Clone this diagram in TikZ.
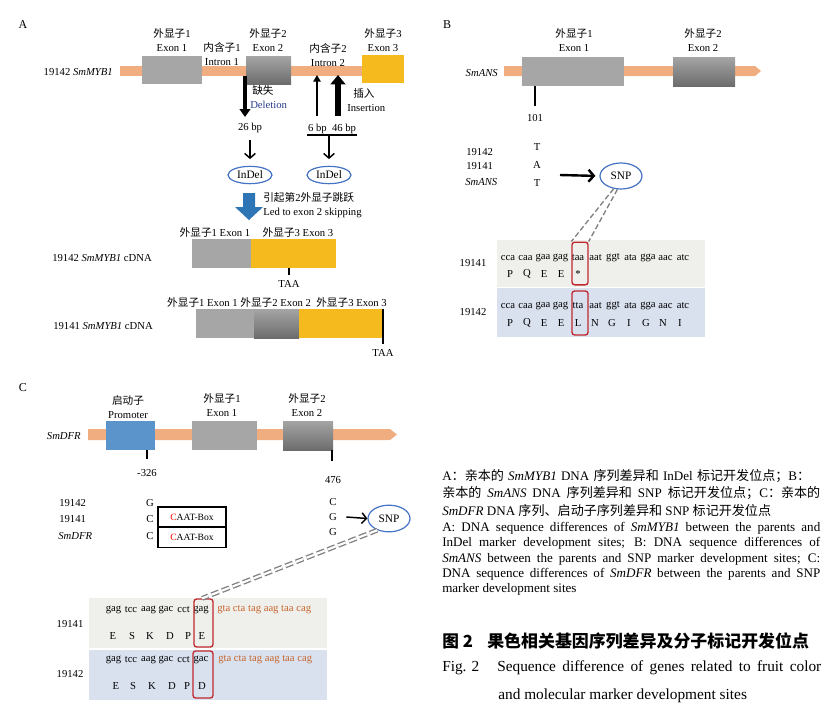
\documentclass[tikz,border=0pt]{standalone}
\usepackage{fontspec}
\setmainfont{Liberation Serif}
\newfontfamily\cjk{Noto Sans CJK SC}
\usetikzlibrary{shapes.geometric, arrows.meta}
\newcommand{\zh}[1]{{\cjk #1}}
\definecolor{genebar}{RGB}{240,173,128}
\definecolor{exongray}{RGB}{166,166,166}
\definecolor{exontop}{RGB}{165,165,165}
\definecolor{exonbot}{RGB}{108,108,108}
\definecolor{exonyellow}{RGB}{245,186,30}
\definecolor{promblue}{RGB}{91,148,202}
\definecolor{ringblue}{RGB}{68,114,196}
\definecolor{bigblue}{RGB}{46,117,182}
\definecolor{rowgray}{RGB}{239,240,236}
\definecolor{rowblue}{RGB}{217,225,239}
\definecolor{boxred}{RGB}{192,40,45}
\definecolor{seqorange}{RGB}{200,100,45}
\definecolor{delblue}{RGB}{40,60,140}

\begin{document}
\begin{tikzpicture}[x=0.75pt,y=-0.75pt,
  lab/.style={font=\fontsize{8}{10.5}\selectfont, inner sep=0pt, align=center},
  seq/.style={font=\fontsize{8}{9}\selectfont, inner sep=0pt},
  captxt/.style={font=\fontsize{9.8}{11}\selectfont, inner sep=0pt, anchor=west},
  ring/.style={ellipse, draw=ringblue, line width=0.9pt, inner sep=0pt, font=\fontsize{8.5}{10}\selectfont},
  redbox/.style={draw=boxred, line width=1pt, rounded corners=2pt, inner sep=0pt},
  exonshade/.style={top color=exontop, bottom color=exonbot},
  blk/.style={line width=1.1pt, -{Straight Barb[length=3.5pt,width=8pt]}},
  snpdash/.style={draw=gray, line width=1pt, dash pattern=on 4pt off 2pt},
  sitemark/.style={line width=1.3pt}]
\useasboundingbox (0,0) rectangle (834,718);

\node[lab, font=\fontsize{9}{10}\selectfont] (pA) at (23,25) {A};
\fill[genebar] (120,66) rectangle (363,76);
\fill[exongray] (142,56) rectangle (202,84);
\path[exonshade] (246,56) rectangle (291,84);
\fill[exonyellow] (362,55) rectangle (404,83);
\node[lab, anchor=east] (mybA) at (113,72) {19142 \textit{SmMYB1}};
\node[lab] (ex1A) at (172,40) {\zh{外显子}1\\Exon 1};
\node[lab] (ex2A) at (268,40) {\zh{外显子}2\\Exon 2};
\node[lab] (ex3A) at (383,40) {\zh{外显子}3\\Exon 3};
\node[lab] (in1A) at (222,54) {\zh{内含子}1\\Intron 1};
\node[lab] (in2A) at (328,55) {\zh{内含子}2\\Intron 2};
\coordinate (delS) at (245,76);
\coordinate (delE) at (245,117);
\draw[line width=2.4pt, -{Triangle[length=6pt,width=8pt]}] (delS) -- (delE);
\node[lab, anchor=west, align=left] (delA) at (250,97.5) {\hspace{1.5pt}\zh{缺失}\\\textcolor{delblue}{Deletion}};
\coordinate (insS1) at (317,116);
\coordinate (insE1) at (317,75);
\draw[line width=1.6pt, -{Triangle[length=5pt,width=5.5pt]}] (insS1) -- (insE1);
\coordinate (insS2) at (338,116);
\coordinate (insE2) at (338,75);
\draw[line width=4pt, -{Triangle[length=7pt,width=11pt]}] (insS2) -- (insE2);
\node[lab, anchor=west, align=left] (insA) at (347,100) {\hspace{4.5pt}\zh{插入}\\Insertion};
\node[lab] (bp26) at (250,128) {26 bp};
\node[lab] (bp46) at (332,129) {6 bp\ \ 46 bp};
\draw[line width=0.8pt] (307,135) coordinate (ulL) -- (357,135) coordinate (ulR);
\coordinate (ulM) at (329,135);
\node[ring, minimum width=33pt, minimum height=13pt] (indel1) at (250,175) {InDel};
\node[ring, minimum width=33pt, minimum height=13pt] (indel2) at (329,175) {InDel};
\draw[blk] ([yshift=-5pt]bp26.south) -- ([yshift=5pt]indel1.north);
\draw[blk] (ulM) -- ([yshift=5pt]indel2.north);
\fill[bigblue] (243,193) -- (255,193) -- (255,207) -- (263,207) -- (249,220) -- (235,207) -- (243,207) -- cycle;
\node[lab, anchor=west, align=left] (skipA) at (263,205) {\zh{引起第}2\zh{外显子跳跃}\\Led to exon 2 skipping};

\node[lab] (cx1) at (215,232) {\zh{外显子}1 Exon 1};
\node[lab] (cx3) at (298,232) {\zh{外显子}3 Exon 3};
\fill[exongray] (192,239) rectangle (251,268);
\fill[exonyellow] (251,239) rectangle (336,268);
\draw[sitemark] (289,268) -- (289,275);
\node[lab] (taa1) at (289,284) {TAA};
\node[lab, anchor=west] (c42) at (52,258) {19142 \textit{SmMYB1} cDNA};
\node[lab] (cx123) at (277,302) {\zh{外显子}1 Exon 1 \zh{外显子}2 Exon 2 \ \zh{外显子}3 Exon 3};
\fill[exongray] (196,309) rectangle (254,338);
\path[exonshade] (254,309) rectangle (299,338);
\fill[exonyellow] (299,309) rectangle (383,338);
\draw[sitemark] (383,309) -- (383,344);
\node[lab] (taa2) at (383,353) {TAA};
\node[lab, anchor=west] (c41) at (53,326) {19141 \textit{SmMYB1} cDNA};

\node[lab, font=\fontsize{9}{10}\selectfont] (pB) at (447,25) {B};
\fill[genebar] (504,66) -- (755,66) -- (761,71) -- (755,76) -- (504,76) -- cycle;
\fill[exongray] (522,57) rectangle (624,86);
\path[exonshade] (673,57) rectangle (735,86);
\node[lab] (ex1B) at (574,40.5) {\zh{外显子}1\\Exon 1};
\node[lab] (ex2B) at (703,40.5) {\zh{外显子}2\\Exon 2};
\node[lab, anchor=east] (ansB) at (498,73) {\textit{SmANS}};
\draw[sitemark] (535,86) -- (535,106);
\node[lab] (p101) at (535,118) {101};
\node[lab, anchor=west] (b42) at (466,152) {19142};
\node[lab, anchor=west] (b41) at (466,166) {19141};
\node[lab, anchor=west] (bans) at (465,182) {\textit{SmANS}};
\node[lab] (bT1) at (537,147) {T};
\node[lab] (bA) at (537,165) {A};
\node[lab] (bT2) at (537,183) {T};
\node[ring, minimum width=31.5pt, minimum height=19.5pt] (snpB) at (621,176) {SNP};
\coordinate (arrB) at (560,175);
\draw[line width=1.8pt, -{Straight Barb[length=4pt,width=9pt]}, shorten >=3pt] (arrB) -- (snpB.west);
\fill[rowgray] (497,240) rectangle (705,287);
\fill[rowblue] (497,288) rectangle (705,337);
\node[lab] (b41s) at (473,263) {19141};
\node[lab] (b42s) at (473,312) {19142};
\foreach \cod [count=\i from 0] in {cca,caa,gaa,gag,taa,aat,ggt,ata,gga,aac,atc}
  \node[seq] (bsa\i) at ({508+17.5*\i},258) {\cod};
\foreach \cod [count=\i from 0] in {cca,caa,gaa,gag,tta,aat,ggt,ata,gga,aac,atc}
  \node[seq] (bsb\i) at ({508+17.5*\i},306) {\cod};
\foreach \aa [count=\i from 0] in {P,Q,E,E,*}
  \node[seq] (baa\i) at ({510+17*\i},274) {\aa};
\foreach \aa [count=\i from 0] in {P,Q,E,E,L,N,G,I,G,N,I}
  \node[seq] (bab\i) at ({510+17*\i},323) {\aa};
\node[redbox, minimum width=12pt, minimum height=32pt] (rB1) at (580,263.5) {};
\node[redbox, minimum width=12pt, minimum height=33pt] (rB2) at (580,313) {};
\draw[snpdash] (snpB.240) -- (rB1.north west);
\draw[snpdash] (snpB.255) -- (rB1.north east);

\node[lab, font=\fontsize{9}{10}\selectfont] (pC) at (23,388) {C};
\fill[genebar] (88,429) -- (390,429) -- (397,434.5) -- (390,440) -- (88,440) -- cycle;
\fill[promblue] (106,421) rectangle (155,450);
\fill[exongray] (192,421) rectangle (257,450);
\path[exonshade] (283,421) rectangle (333,450);
\node[lab] (proC) at (128,407.5) {\zh{启动子}\\Promoter};
\node[lab] (ex1C) at (222,405.5) {\zh{外显子}1\\Exon 1};
\node[lab] (ex2C) at (307,405.5) {\zh{外显子}2\\Exon 2};
\node[lab, anchor=east] (dfrC) at (81,436) {\textit{SmDFR}};
\draw[sitemark] (147,450) -- (147,459);
\node[lab] (m326) at (147,473) {-326};
\draw[sitemark] (332,450) -- (332,461);
\node[lab] (p476) at (333,480) {476};
\node[lab, anchor=west] (c42r) at (59,503) {19142};
\node[lab, anchor=west] (c41r) at (59,519) {19141};
\node[lab, anchor=west] (cdfr) at (58,536) {\textit{SmDFR}};
\node[lab] (cg1) at (150,503) {G};
\node[lab] (cc1) at (150,519) {C};
\node[lab] (cc2) at (150,536) {C};
\node[draw, line width=0.9pt, minimum width=51pt, minimum height=15pt, inner sep=0pt, font=\fontsize{7.2}{8}\selectfont] (caat1) at (192,517) {\textcolor{red}{C}AAT-Box};
\node[draw, line width=0.9pt, minimum width=51pt, minimum height=14.5pt, inner sep=0pt, font=\fontsize{7.2}{8}\selectfont] (caat2) at (192,537.5) {\textcolor{red}{C}AAT-Box};
\node[lab] (cs1) at (333,502) {C};
\node[lab] (cs2) at (333,517) {G};
\node[lab] (cs3) at (333,532) {G};
\node[ring, minimum width=31.5pt, minimum height=20pt] (snpC) at (389,518.5) {SNP};
\draw[blk] ([xshift=7pt]cs2.east) -- (snpC.west);
\fill[rowgray] (89,598) rectangle (327,648);
\fill[rowblue] (89,650) rectangle (327,700);
\node[lab] (c41s) at (70,624) {19141};
\node[lab] (c42s) at (70,674) {19142};
\foreach \cod [count=\i from 0] in {gag,tcc,aag,gac,cct,gag}
  \node[seq] (csa\i) at ({113.5+17.5*\i},610) {\cod};
\foreach \cod [count=\i from 0] in {gag,tcc,aag,gac,cct,gac}
  \node[seq] (csb\i) at ({113.5+17.5*\i},660) {\cod};
\node[seq, anchor=west, text=seqorange] (cor1) at (217,610) {gta cta tag aag taa cag};
\node[seq, anchor=west, text=seqorange] (cor2) at (218,660) {gta cta tag aag taa cag};
\foreach \x/\aa [count=\i] in {113/E,132/S,150/K,170/D,188/P,202/E}
  \node[seq] (caa\i) at (\x,636) {\aa};
\foreach \x/\aa [count=\i] in {116/E,133/S,152/K,172/D,187/P,202/D}
  \node[seq] (cab\i) at (\x,686) {\aa};
\node[redbox, minimum width=14.25pt, minimum height=36pt] (rC1) at (203.5,623) {};
\node[redbox, minimum width=15pt, minimum height=35.25pt] (rC2) at (203,674.5) {};
\draw[gray, line width=1pt, double=white, double distance=1.6pt, dash pattern=on 6pt off 2.5pt] (snpC.225) -- ([xshift=-1pt]rC1.north);

\node[captxt] (t1) at (442,476) {\makebox[276pt][s]{A\zh{：亲本的} \textit{SmMYB1} DNA \zh{序列差异和} InDel \zh{标记开发位点；}B\zh{：}}};
\node[captxt] (t2) at (442,493) {\makebox[283.5pt][s]{\zh{亲本的} \textit{SmANS} DNA \zh{序列差异和} SNP \zh{标记开发位点；}C\zh{：亲本的}}};
\node[captxt] (t3) at (442,511) {\textit{SmDFR} DNA \zh{序列、启动子序列差异和} SNP \zh{标记开发位点}};
\node[captxt] (t4) at (442,528) {\makebox[283.5pt][s]{A: DNA sequence differences of \textit{SmMYB1} between the parents and}};
\node[captxt] (t5) at (442,543) {\makebox[283.5pt][s]{InDel marker development sites; B: DNA sequence differences of}};
\node[captxt] (t6) at (442,559) {\makebox[283.5pt][s]{\textit{SmANS} between the parents and SNP marker development sites; C:}};
\node[captxt] (t7) at (442,574) {\makebox[283.5pt][s]{DNA sequence differences of \textit{SmDFR} between the parents and SNP}};
\node[captxt] (t8) at (442,589) {marker development sites};
\node[captxt, font=\fontsize{12.5}{14}\selectfont\cjk\bfseries] (fz) at (442,641) {图 2};
\node[captxt, font=\fontsize{12.7}{14}\selectfont\cjk\bfseries] (fzt) at (487,641) {果色相关基因序列差异及分子标记开发位点};
\node[captxt, font=\fontsize{11.5}{13}\selectfont] (fe) at (442,668) {Fig. 2};
\node[captxt, font=\fontsize{11.5}{13}\selectfont] (fet) at (497,668) {\makebox[243pt][s]{Sequence difference of genes related to fruit color}};
\node[captxt, font=\fontsize{11.5}{13}\selectfont] (fet2) at (498,696) {and molecular marker development sites};
\end{tikzpicture}
\end{document}
